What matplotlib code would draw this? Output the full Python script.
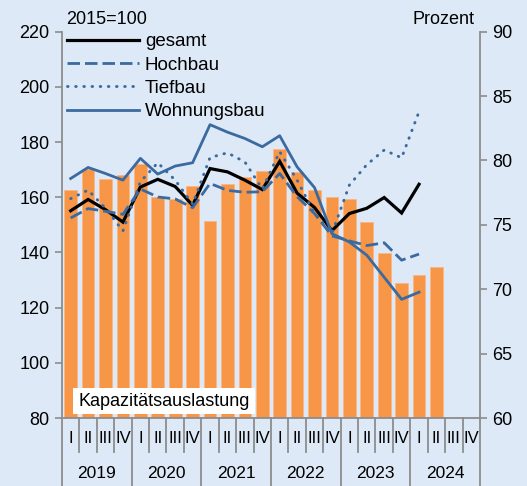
import matplotlib.pyplot as plt

plt.rcParams['font.family'] = ['Liberation Sans', 'DejaVu Sans']

# Quartale 2019 I bis 2024 IV
quartale = ["I", "II", "III", "IV"] * 6
jahre = ["2019", "2020", "2021", "2022", "2023", "2024"]

# Kapazitaetsauslastung in Prozent (rechte Achse)
auslastung = [77.7, 79.3, 78.55, 78.9, 79.7, 77.15, 77.0, 78.0, 75.3, 78.2, 78.7,
              79.2, 80.9, 79.1, 77.7, 77.2, 77.0, 75.2, 72.8, 70.5, 71.1, 71.7]

# Indizes 2015=100 (linke Achse)
gesamt = [155.1, 159.2, 155.5, 151.0, 163.7, 166.5, 163.9, 157.1, 170.4, 169.2, 166.2,
          162.8, 173.0, 161.5, 156.3, 147.9, 154.1, 156.0, 159.9, 154.3, 164.7]
hochbau = [152.5, 155.9, 154.9, 153.8, 163.0, 160.1, 159.4, 156.2, 165.0, 162.5, 161.8,
           162.0, 168.6, 160.2, 154.1, 146.0, 144.2, 142.5, 143.5, 137.2, 139.4]
tiefbau = [159.5, 162.6, 156.0, 147.8, 165.6, 172.5, 166.2, 157.5, 174.4, 176.1, 172.8,
           163.0, 176.5, 166.2, 154.1, 146.9, 164.4, 171.8, 177.1, 174.3, 191.0]
wohnungsbau = [166.8, 170.8, 168.6, 166.2, 174.1, 168.4, 171.3, 172.5, 186.3, 183.6, 181.3,
               178.3, 182.3, 171.0, 163.5, 146.8, 143.8, 139.0, 131.0, 123.0, 125.6]

bg = "#dde9f6"
orange = "#f79646"
blau = "#3b6aa0"
grau = "#8c8c8c"

fig = plt.figure(figsize=(5.27, 4.86), dpi=100, facecolor=bg)
ax = fig.add_axes([0.1176, 0.1399, 0.7932, 0.7949], facecolor=bg)

# Balken auf der Prozent-Achse
ax.bar(range(len(auslastung)), auslastung, width=0.73, color=orange,
       edgecolor="#fbb685", linewidth=0.6, zorder=2)
ax.set_ylim(60, 90)
ax.set_xlim(-0.5, 23.5)
ax.set_yticks([60, 65, 70, 75, 80, 85, 90])

# Linien auf der Index-Achse
ax2 = ax.twinx()
ax2.patch.set_visible(False)
ax2.set_ylim(80, 220)
ax2.set_yticks(range(80, 221, 20))
x = range(len(gesamt))
ax2.plot(x, gesamt, color="black", lw=2.3, label="gesamt", solid_joinstyle="miter")
ax2.plot(x, hochbau, color=blau, lw=2.0, ls=(0, (4.5, 1.8)), label="Hochbau")
ax2.plot(x, tiefbau, color=blau, lw=2.1, ls=(0, (0.2, 2.6)), dash_capstyle="round",
         label="Tiefbau")
ax2.plot(x, wohnungsbau, color=blau, lw=2.0, label="Wohnungsbau")

# Prozent rechts, Index links
ax.yaxis.set_ticks_position("right")
ax.yaxis.set_label_position("right")
ax2.yaxis.set_ticks_position("left")
ax2.yaxis.set_label_position("left")

for a in (ax, ax2):
    for s in a.spines.values():
        s.set_visible(False)
    a.tick_params(axis="y", labelsize=13, length=5, width=1.2, color=grau, pad=4)
    a.tick_params(axis="x", length=0)

for a, seite in ((ax, "bottom"), (ax, "right"), (ax2, "left")):
    a.spines[seite].set_visible(True)
    a.spines[seite].set_color(grau)
    a.spines[seite].set_linewidth(1.3)

# Kategorienachse: Quartale und Jahre
ax.set_xticks(range(24))
ax.set_xticklabels(quartale, fontsize=12)
ax.tick_params(axis="x", pad=9)
trans = ax.get_xaxis_transform()
for i in range(25):
    pos = i - 0.5
    unten = -0.176 if i % 4 == 0 else -0.088
    ax.plot([pos, pos], [0, unten], color=grau, lw=1.3, transform=trans, clip_on=False)
for j, jahr in enumerate(jahre):
    ax.text(j * 4 + 1.5, -0.143, jahr, transform=trans, ha="center", va="center",
            fontsize=12.5)

ax2.legend(loc="upper left", bbox_to_anchor=(-0.015, 1.025), frameon=False,
           fontsize=13.5, handlelength=3.85, handletextpad=0.3, labelspacing=0.33,
           borderaxespad=0.2)

fig.text(66 / 527, 1 - 19 / 486, "2015=100", fontsize=13, ha="left", va="center")
fig.text(474 / 527, 1 - 19 / 486, "Prozent", fontsize=13, ha="right", va="center")
ax.text(0.244, 0.044, "Kapazitätsauslastung", transform=ax.transAxes, fontsize=13,
        ha="center", va="center", zorder=5,
        bbox=dict(facecolor="white", edgecolor="none", pad=3.5))

fig.savefig("out.png", dpi=100, facecolor=bg)
